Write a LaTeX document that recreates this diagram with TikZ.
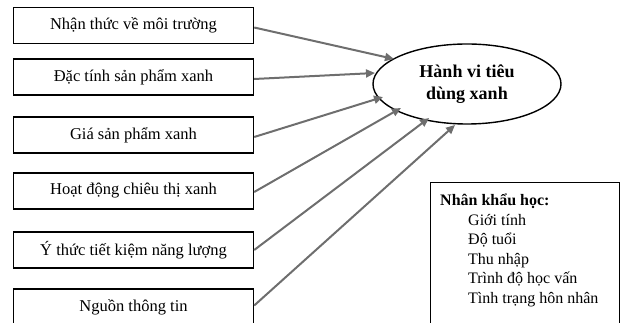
\documentclass[tikz,border=0pt]{standalone}
\usepackage{fontspec}
\setmainfont{Liberation Serif}
\usetikzlibrary{arrows.meta,shapes.geometric}
\begin{document}
\begin{tikzpicture}[x=1pt,y=-1pt,
  factor/.style={draw=black,line width=1.4pt,rectangle,minimum width=240pt,minimum height=36pt,inner sep=0pt,font=\fontsize{16.5}{18}\selectfont},
  link/.style={draw={rgb,255:red,110;green,110;blue,110},line width=2pt,-{Triangle[length=9pt,width=8pt]}},
  goal/.style={draw=black,line width=1.4pt,ellipse,minimum width=188pt,minimum height=80pt,inner sep=0pt,align=center,font=\fontsize{18}{22}\selectfont\bfseries}
]
\useasboundingbox (0,0) rectangle (622,323);
\clip (0,0) rectangle (622,323);
\node[factor] (f1) at (133.5,25.5) {Nhận thức về môi trường};
\node[factor] (f2) at (133.5,77) {Đặc tính sản phẩm xanh};
\node[factor] (f3) at (133.5,135) {Giá sản phẩm xanh};
\node[factor] (f4) at (133.5,191) {Hoạt động chiêu thị xanh};
\node[factor] (f5) at (133.5,250) {Ý thức tiết kiệm năng lượng};
\node[factor,minimum height=37pt] (f6) at (133.5,307.5) {Nguồn thông tin};
\node[goal] (g) at (467,84) {Hành vi tiêu\\dùng xanh};
\coordinate (e1) at (394,59);
\coordinate (e2) at (375,73);
\coordinate (e3) at (383,97);
\coordinate (e4) at (401,108);
\coordinate (e5) at (429,118);
\coordinate (e6) at (455,125);
\draw[link] (f1.east) ++(0,2) -- (e1);
\draw[link] (f2.east) ++(0,2) -- (e2);
\draw[link] (f3.east) ++(0,2) -- (e3);
\draw[link] (f4.east) ++(0,1) -- (e4);
\draw[link] (f5.east) -- (e5);
\draw[link] (f6.east) ++(0,-2) -- (e6);
\node[draw=black,line width=1.4pt,rectangle,minimum width=189pt,minimum height=160pt,anchor=north west,inner sep=0pt] (demo) at (430,182) {};
\node[anchor=north west,align=left,inner sep=0pt,font=\fontsize{16}{19.5}\selectfont] (demotext) at ([xshift=10pt,yshift=-12pt]demo.north west)
 {\textbf{Nhân khẩu học:}\\
 \hspace{28pt}Giới tính\\
 \hspace{28pt}Độ tuổi\\
 \hspace{28pt}Thu nhập\\
 \hspace{28pt}Trình độ học vấn\\
 \hspace{28pt}Tình trạng hôn nhân};
\end{tikzpicture}
\end{document}
